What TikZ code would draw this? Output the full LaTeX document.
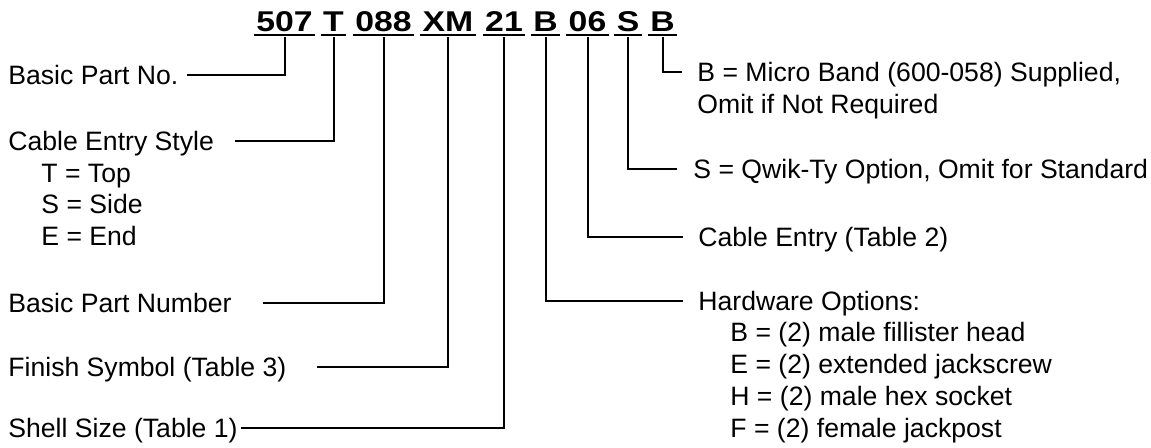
\documentclass[tikz,border=0pt]{standalone}
\usepackage{fontspec}
\setmainfont{Liberation Sans}
\begin{document}
\begin{tikzpicture}[x=0.5pt,y=-0.5pt,
  lbl/.style={anchor=base west,inner sep=0pt,font=\fontsize{13.3}{16}\selectfont},
  code/.style={anchor=base,inner xsep=1pt,inner ysep=0pt,text depth=1.75pt,
    font=\fontsize{14.3}{16}\selectfont\bfseries},
  uline/.style={line width=1.4pt},
  conn/.style={line width=1pt}]
\useasboundingbox (0,0) rectangle (1151,447);
% code segments
\node[code] (c1) at (284.5,31) {\scalebox{1.18}[1]{507}};
\node[code] (c2) at (333.5,31) {\scalebox{1.18}[1]{T}};
\node[code] (c3) at (383.5,31) {\scalebox{1.18}[1]{088}};
\node[code] (c4) at (448,31) {\scalebox{1.18}[1]{XM}};
\node[code] (c5) at (504,31) {\scalebox{1.18}[1]{21}};
\node[code] (c6) at (545.5,31) {\scalebox{1.18}[1]{B}};
\node[code] (c7) at (587.5,31) {\scalebox{1.18}[1]{06}};
\node[code] (c8) at (628,31) {\scalebox{1.18}[1]{S}};
\node[code] (c9) at (662.5,31) {\scalebox{1.18}[1]{B}};
\foreach \n in {c1,c2,c3,c4,c5,c6,c7,c8,c9}
  \draw[uline] (\n.south west) -- (\n.south east);
% left labels
\node[lbl] (l1) at (8,84) {Basic Part No.};
\node[lbl] (l2) at (8,150) {Cable Entry Style};
\node[lbl] (l2a) at (41,182) {T = Top};
\node[lbl] (l2b) at (41,213.5) {S = Side};
\node[lbl] (l2c) at (41,245) {E = End};
\node[lbl] (l3) at (8,312) {Basic Part Number};
\node[lbl] (l4) at (8,376) {Finish Symbol (Table 3)};
\node[lbl] (l5) at (8,437) {Shell Size (Table 1)};
% right labels
\node[lbl] (r9) at (697,81) {B = Micro Band (600-058) Supplied,};
\node[lbl] (r9a) at (697,113) {Omit if Not Required};
\node[lbl] (r8) at (693,178) {S = Qwik-Ty Option, Omit for Standard};
\node[lbl] (r7) at (698,246) {Cable Entry (Table 2)};
\node[lbl] (r6) at (698,310) {Hardware Options:};
\node[lbl] (r6a) at (730,341) {B = (2) male fillister head};
\node[lbl] (r6b) at (730,373) {E = (2) extended jackscrew};
\node[lbl] (r6c) at (730,405) {H = (2) male hex socket};
\node[lbl] (r6d) at (730,437) {F = (2) female jackpost};
% connector ends
\coordinate (k1) at (187,75);
\coordinate (k2) at (235,141);
\coordinate (k3) at (263,303);
\coordinate (k4) at (317,367);
\coordinate (k5) at (241,428);
\coordinate (k6) at (683,301);
\coordinate (k7) at (683,237);
\coordinate (k8) at (677,169);
\coordinate (k9) at (682,72);
% connectors
\draw[conn] ([yshift=-1pt]c1.south) |- (k1);
\draw[conn] ([yshift=-1pt]c2.south) |- (k2);
\draw[conn] ([yshift=-1pt]c3.south) |- (k3);
\draw[conn] ([yshift=-1pt]c4.south) |- (k4);
\draw[conn] ([yshift=-1pt]c5.south) |- (k5);
\draw[conn] ([yshift=-1pt]c6.south) |- (k6);
\draw[conn] ([yshift=-1pt]c7.south) |- (k7);
\draw[conn] ([yshift=-1pt]c8.south) |- (k8);
\draw[conn] ([yshift=-1pt]c9.south) |- (k9);
\end{tikzpicture}
\end{document}
